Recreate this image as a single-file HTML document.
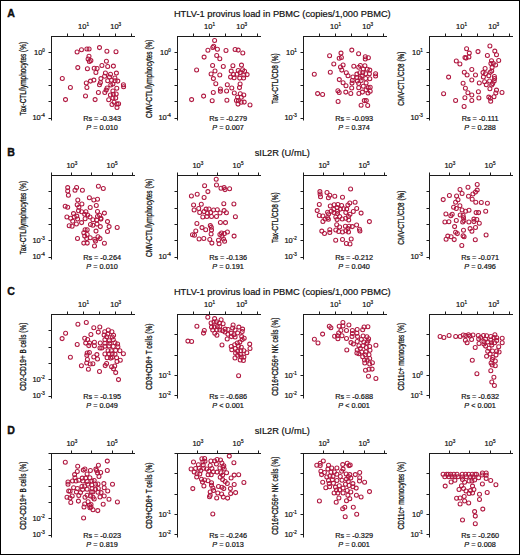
<!DOCTYPE html><html><head><meta charset="utf-8"><style>
html,body{margin:0;padding:0;background:#fff;}
#fig{position:relative;width:520px;height:555px;overflow:hidden;background:#fff;}
svg{display:block;}
text{font-family:"Liberation Sans", sans-serif;fill:#111;stroke:#111;stroke-width:0.2px;}
</style></head><body><div id="fig">
<svg width="520" height="555" viewBox="0 0 520 555">
<rect x="0.5" y="0.5" width="519" height="554" fill="#fff" stroke="#000" stroke-width="1"/>
<text x="7.3" y="16.5" font-size="10.6" font-weight="bold" fill="#000" style="stroke:#000;stroke-width:0.35px">A</text>
<text x="282.3" y="16.6" font-size="9.3" text-anchor="middle">HTLV-1 provirus load in PBMC (copies/1,000 PBMC)</text>
<path d="M51.5 36.5H135M51.5 36V120.5" stroke="#1c1c1c" stroke-width="1" fill="none"/>
<path d="M67.5 36.5V33.5M83.5 36.5V33.5M99.5 36.5V33.5M115.5 36.5V33.5M131.5 36.5V33.5" stroke="#1c1c1c" stroke-width="1" fill="none"/>
<text x="83.57" y="28.9" font-size="7.5" text-anchor="middle">10<tspan font-size="4.6" dy="-2.8">1</tspan></text>
<text x="115.71" y="28.9" font-size="7.5" text-anchor="middle">10<tspan font-size="4.6" dy="-2.8">3</tspan></text>
<path d="M51.5 52.5H48.5M51.5 69.5H48.5M51.5 85.5H48.5M51.5 101.5H48.5M51.5 118.5H48.5" stroke="#1c1c1c" stroke-width="1" fill="none"/>
<text x="44.9" y="54.8" font-size="7.5" text-anchor="end">10<tspan font-size="4.6" dy="-2.8">0</tspan></text>
<text x="44.9" y="120.2" font-size="7.5" text-anchor="end">10<tspan font-size="4.6" dy="-2.8">-4</tspan></text>
<text transform="translate(25.8 78.7) rotate(-90)" x="0" y="0" font-size="8.8" style="stroke-width:0.28px" text-anchor="middle" textLength="73.5" lengthAdjust="spacingAndGlyphs">Tax-CTL/lymphocytes (%)</text>
<text x="102.1" y="120.6" font-size="7.3" text-anchor="middle">Rs = -0.343</text>
<text x="102.1" y="129.5" font-size="7.3" text-anchor="middle"><tspan font-style="italic">P</tspan> = 0.010</text>
<g fill="none" stroke="#b01840" stroke-width="1.05">
<circle cx="77.1" cy="51.9" r="2.0"/>
<circle cx="81.5" cy="49.8" r="2.0"/>
<circle cx="86.9" cy="49" r="2.0"/>
<circle cx="89.1" cy="49" r="2.0"/>
<circle cx="89" cy="56.2" r="2.0"/>
<circle cx="88.1" cy="58.9" r="2.0"/>
<circle cx="90.9" cy="60.6" r="2.0"/>
<circle cx="89.4" cy="61.4" r="2.0"/>
<circle cx="77.8" cy="67.6" r="2.0"/>
<circle cx="87.4" cy="68.8" r="2.0"/>
<circle cx="62.3" cy="78.5" r="2.0"/>
<circle cx="99.5" cy="47.6" r="2.0"/>
<circle cx="106.9" cy="51.2" r="2.0"/>
<circle cx="116" cy="51.7" r="2.0"/>
<circle cx="106.4" cy="61.2" r="2.0"/>
<circle cx="101.9" cy="65.4" r="2.0"/>
<circle cx="107.7" cy="66.4" r="2.0"/>
<circle cx="113.4" cy="66.1" r="2.0"/>
<circle cx="94.2" cy="68.3" r="2.0"/>
<circle cx="97.1" cy="68.4" r="2.0"/>
<circle cx="95.9" cy="72.4" r="2.0"/>
<circle cx="105.4" cy="73" r="2.0"/>
<circle cx="110.5" cy="74.2" r="2.0"/>
<circle cx="116.4" cy="73.1" r="2.0"/>
<circle cx="104.6" cy="76.3" r="2.0"/>
<circle cx="109.5" cy="77.1" r="2.0"/>
<circle cx="114.9" cy="77.9" r="2.0"/>
<circle cx="100.9" cy="78.6" r="2.0"/>
<circle cx="70.4" cy="87.4" r="2.0"/>
<circle cx="65.5" cy="99.6" r="2.0"/>
<circle cx="86.3" cy="83" r="2.0"/>
<circle cx="90.5" cy="81.1" r="2.0"/>
<circle cx="93.9" cy="80.1" r="2.0"/>
<circle cx="86.9" cy="87.4" r="2.0"/>
<circle cx="85.5" cy="95.9" r="2.0"/>
<circle cx="100.4" cy="82.6" r="2.0"/>
<circle cx="99.5" cy="84.7" r="2.0"/>
<circle cx="107.7" cy="80.8" r="2.0"/>
<circle cx="111.4" cy="80.3" r="2.0"/>
<circle cx="115.1" cy="80.8" r="2.0"/>
<circle cx="117.8" cy="81.1" r="2.0"/>
<circle cx="112.9" cy="83.9" r="2.0"/>
<circle cx="110.8" cy="84.9" r="2.0"/>
<circle cx="107.1" cy="88" r="2.0"/>
<circle cx="106.2" cy="90.1" r="2.0"/>
<circle cx="104.8" cy="92.5" r="2.0"/>
<circle cx="98.4" cy="92.5" r="2.0"/>
<circle cx="116.8" cy="88.2" r="2.0"/>
<circle cx="123.4" cy="84.7" r="2.0"/>
<circle cx="123.6" cy="86.8" r="2.0"/>
<circle cx="112.9" cy="90.9" r="2.0"/>
<circle cx="110.4" cy="95" r="2.0"/>
<circle cx="113.3" cy="94.2" r="2.0"/>
<circle cx="116.2" cy="94" r="2.0"/>
<circle cx="115.7" cy="97.9" r="2.0"/>
<circle cx="112.9" cy="97.9" r="2.0"/>
<circle cx="108.7" cy="99.8" r="2.0"/>
<circle cx="95.1" cy="99.6" r="2.0"/>
<circle cx="114.1" cy="102.3" r="2.0"/>
<circle cx="112" cy="104.5" r="2.0"/>
<circle cx="117" cy="104.1" r="2.0"/>
<circle cx="118.6" cy="103.7" r="2.0"/>
<circle cx="117" cy="107.4" r="2.0"/>
</g>
<path d="M177.5 36.5H261M177.5 36V120.5" stroke="#1c1c1c" stroke-width="1" fill="none"/>
<path d="M193.5 36.5V33.5M209.5 36.5V33.5M225.5 36.5V33.5M241.5 36.5V33.5M257.5 36.5V33.5" stroke="#1c1c1c" stroke-width="1" fill="none"/>
<text x="209.57" y="28.9" font-size="7.5" text-anchor="middle">10<tspan font-size="4.6" dy="-2.8">1</tspan></text>
<text x="241.71" y="28.9" font-size="7.5" text-anchor="middle">10<tspan font-size="4.6" dy="-2.8">3</tspan></text>
<path d="M177.5 52.5H174.5M177.5 69.5H174.5M177.5 85.5H174.5M177.5 101.5H174.5M177.5 118.5H174.5" stroke="#1c1c1c" stroke-width="1" fill="none"/>
<text x="170.9" y="54.8" font-size="7.5" text-anchor="end">10<tspan font-size="4.6" dy="-2.8">0</tspan></text>
<text x="170.9" y="120.2" font-size="7.5" text-anchor="end">10<tspan font-size="4.6" dy="-2.8">-4</tspan></text>
<text transform="translate(151.8 78.7) rotate(-90)" x="0" y="0" font-size="8.8" style="stroke-width:0.28px" text-anchor="middle" textLength="78.4" lengthAdjust="spacingAndGlyphs">CMV-CTL/lymphocytes (%)</text>
<text x="228.1" y="120.6" font-size="7.3" text-anchor="middle">Rs = -0.279</text>
<text x="228.1" y="129.5" font-size="7.3" text-anchor="middle"><tspan font-style="italic">P</tspan> = 0.007</text>
<g fill="none" stroke="#b01840" stroke-width="1.05">
<circle cx="214.6" cy="40.5" r="2.0"/>
<circle cx="213.7" cy="46.3" r="2.0"/>
<circle cx="212.8" cy="47.5" r="2.0"/>
<circle cx="217.4" cy="49.2" r="2.0"/>
<circle cx="207.9" cy="50.2" r="2.0"/>
<circle cx="216.7" cy="55.4" r="2.0"/>
<circle cx="219.8" cy="58.7" r="2.0"/>
<circle cx="204.1" cy="57.1" r="2.0"/>
<circle cx="212.6" cy="65.4" r="2.0"/>
<circle cx="196.6" cy="69.9" r="2.0"/>
<circle cx="215" cy="70.9" r="2.0"/>
<circle cx="211.1" cy="74" r="2.0"/>
<circle cx="219.8" cy="74.9" r="2.0"/>
<circle cx="213.4" cy="78.6" r="2.0"/>
<circle cx="226" cy="50.4" r="2.0"/>
<circle cx="235.1" cy="49.4" r="2.0"/>
<circle cx="238.2" cy="50.1" r="2.0"/>
<circle cx="242.8" cy="53" r="2.0"/>
<circle cx="223.3" cy="66.4" r="2.0"/>
<circle cx="232.9" cy="65.8" r="2.0"/>
<circle cx="241.5" cy="65.1" r="2.0"/>
<circle cx="231.2" cy="71.1" r="2.0"/>
<circle cx="233.5" cy="74.4" r="2.0"/>
<circle cx="230.6" cy="77.1" r="2.0"/>
<circle cx="234.1" cy="77.7" r="2.0"/>
<circle cx="237" cy="74.2" r="2.0"/>
<circle cx="238.2" cy="70.5" r="2.0"/>
<circle cx="240.1" cy="72.6" r="2.0"/>
<circle cx="242.6" cy="69.7" r="2.0"/>
<circle cx="244.6" cy="71.3" r="2.0"/>
<circle cx="243.8" cy="75" r="2.0"/>
<circle cx="247.1" cy="74.6" r="2.0"/>
<circle cx="239.7" cy="78.1" r="2.0"/>
<circle cx="243.6" cy="77.9" r="2.0"/>
<circle cx="215.8" cy="83.7" r="2.0"/>
<circle cx="220.4" cy="89" r="2.0"/>
<circle cx="220.4" cy="91.3" r="2.0"/>
<circle cx="213.3" cy="92.5" r="2.0"/>
<circle cx="203.6" cy="96.1" r="2.0"/>
<circle cx="191.6" cy="99.6" r="2.0"/>
<circle cx="212.2" cy="100.8" r="2.0"/>
<circle cx="227.3" cy="84.7" r="2.0"/>
<circle cx="240.1" cy="83.9" r="2.0"/>
<circle cx="239.5" cy="87.6" r="2.0"/>
<circle cx="231.8" cy="88" r="2.0"/>
<circle cx="226.6" cy="90.9" r="2.0"/>
<circle cx="234.3" cy="93" r="2.0"/>
<circle cx="240.3" cy="93.8" r="2.0"/>
<circle cx="243.8" cy="95" r="2.0"/>
<circle cx="237.6" cy="97.3" r="2.0"/>
<circle cx="241.3" cy="97.3" r="2.0"/>
<circle cx="236.4" cy="100.4" r="2.0"/>
<circle cx="238.4" cy="100.8" r="2.0"/>
<circle cx="241.2" cy="102.3" r="2.0"/>
<circle cx="244.2" cy="102.1" r="2.0"/>
<circle cx="238" cy="104.1" r="2.0"/>
<circle cx="226.9" cy="100.2" r="2.0"/>
<circle cx="250" cy="104.9" r="2.0"/>
</g>
<path d="M303.5 36.5H387M303.5 36V120.5" stroke="#1c1c1c" stroke-width="1" fill="none"/>
<path d="M319.5 36.5V33.5M335.5 36.5V33.5M351.5 36.5V33.5M367.5 36.5V33.5M383.5 36.5V33.5" stroke="#1c1c1c" stroke-width="1" fill="none"/>
<text x="335.57" y="28.9" font-size="7.5" text-anchor="middle">10<tspan font-size="4.6" dy="-2.8">1</tspan></text>
<text x="367.71" y="28.9" font-size="7.5" text-anchor="middle">10<tspan font-size="4.6" dy="-2.8">3</tspan></text>
<path d="M303.5 52.5H300.5M303.5 69.5H300.5M303.5 85.5H300.5M303.5 101.5H300.5M303.5 118.5H300.5" stroke="#1c1c1c" stroke-width="1" fill="none"/>
<text x="296.9" y="54.8" font-size="7.5" text-anchor="end">10<tspan font-size="4.6" dy="-2.8">1</tspan></text>
<text x="296.9" y="120.2" font-size="7.5" text-anchor="end">10<tspan font-size="4.6" dy="-2.8">-3</tspan></text>
<text transform="translate(277.8 78.7) rotate(-90)" x="0" y="0" font-size="8.8" style="stroke-width:0.28px" text-anchor="middle" textLength="50.5" lengthAdjust="spacingAndGlyphs">Tax-CTL/CD8 (%)</text>
<text x="354.1" y="120.6" font-size="7.3" text-anchor="middle">Rs = -0.093</text>
<text x="354.1" y="129.5" font-size="7.3" text-anchor="middle"><tspan font-style="italic">P</tspan> = 0.374</text>
<g fill="none" stroke="#b01840" stroke-width="1.05">
<circle cx="341" cy="53.1" r="2.0"/>
<circle cx="329.6" cy="55.8" r="2.0"/>
<circle cx="339.2" cy="58.3" r="2.0"/>
<circle cx="341.4" cy="57.5" r="2.0"/>
<circle cx="333.8" cy="64" r="2.0"/>
<circle cx="343.1" cy="64.9" r="2.0"/>
<circle cx="340.5" cy="66.9" r="2.0"/>
<circle cx="341.8" cy="70.1" r="2.0"/>
<circle cx="330.3" cy="72.2" r="2.0"/>
<circle cx="314.3" cy="74.2" r="2.0"/>
<circle cx="351.8" cy="50.1" r="2.0"/>
<circle cx="358.6" cy="53.8" r="2.0"/>
<circle cx="365.3" cy="56.7" r="2.0"/>
<circle cx="368.4" cy="57.7" r="2.0"/>
<circle cx="365.3" cy="58.9" r="2.0"/>
<circle cx="353.8" cy="66.3" r="2.0"/>
<circle cx="358.7" cy="67.2" r="2.0"/>
<circle cx="360.4" cy="65.5" r="2.0"/>
<circle cx="364.9" cy="65.8" r="2.0"/>
<circle cx="363.3" cy="68.9" r="2.0"/>
<circle cx="367.3" cy="69.3" r="2.0"/>
<circle cx="369.8" cy="70.1" r="2.0"/>
<circle cx="346.3" cy="72.8" r="2.0"/>
<circle cx="348" cy="75.8" r="2.0"/>
<circle cx="352.9" cy="76.9" r="2.0"/>
<circle cx="356.9" cy="74.1" r="2.0"/>
<circle cx="359.8" cy="72.7" r="2.0"/>
<circle cx="362.7" cy="72.7" r="2.0"/>
<circle cx="362.1" cy="75.8" r="2.0"/>
<circle cx="356.9" cy="77.6" r="2.0"/>
<circle cx="365.7" cy="73.8" r="2.0"/>
<circle cx="369.4" cy="73.8" r="2.0"/>
<circle cx="365.7" cy="78.4" r="2.0"/>
<circle cx="369.8" cy="78.8" r="2.0"/>
<circle cx="375.6" cy="73.8" r="2.0"/>
<circle cx="375.6" cy="75.9" r="2.0"/>
<circle cx="360.3" cy="77.9" r="2.0"/>
<circle cx="339.3" cy="79.6" r="2.0"/>
<circle cx="343.1" cy="82.8" r="2.0"/>
<circle cx="337.9" cy="90.7" r="2.0"/>
<circle cx="339.2" cy="92.5" r="2.0"/>
<circle cx="317.6" cy="93.6" r="2.0"/>
<circle cx="322.6" cy="94.4" r="2.0"/>
<circle cx="338.1" cy="101.5" r="2.0"/>
<circle cx="346" cy="85.7" r="2.0"/>
<circle cx="352.3" cy="80.5" r="2.0"/>
<circle cx="352" cy="83.1" r="2.0"/>
<circle cx="351.7" cy="88" r="2.0"/>
<circle cx="357.4" cy="81" r="2.0"/>
<circle cx="361.1" cy="80.5" r="2.0"/>
<circle cx="358.7" cy="83.4" r="2.0"/>
<circle cx="366.1" cy="83" r="2.0"/>
<circle cx="358.7" cy="87.7" r="2.0"/>
<circle cx="363.3" cy="86.2" r="2.0"/>
<circle cx="368.2" cy="87.6" r="2.0"/>
<circle cx="370.2" cy="87.2" r="2.0"/>
<circle cx="366.1" cy="89.9" r="2.0"/>
<circle cx="350.8" cy="93.4" r="2.0"/>
<circle cx="358.9" cy="93.4" r="2.0"/>
<circle cx="362.4" cy="92.1" r="2.0"/>
<circle cx="368" cy="93" r="2.0"/>
<circle cx="370.2" cy="91.3" r="2.0"/>
<circle cx="364.3" cy="100.6" r="2.0"/>
<circle cx="366.3" cy="100.6" r="2.0"/>
<circle cx="361.1" cy="105.2" r="2.0"/>
<circle cx="367.7" cy="105.4" r="2.0"/>
<circle cx="345.8" cy="92.1" r="2.0"/>
</g>
<path d="M429.5 36.5H513M429.5 36V120.5" stroke="#1c1c1c" stroke-width="1" fill="none"/>
<path d="M445.5 36.5V33.5M461.5 36.5V33.5M477.5 36.5V33.5M493.5 36.5V33.5M509.5 36.5V33.5" stroke="#1c1c1c" stroke-width="1" fill="none"/>
<text x="461.57" y="28.9" font-size="7.5" text-anchor="middle">10<tspan font-size="4.6" dy="-2.8">1</tspan></text>
<text x="493.71" y="28.9" font-size="7.5" text-anchor="middle">10<tspan font-size="4.6" dy="-2.8">3</tspan></text>
<path d="M429.5 52.5H426.5M429.5 69.5H426.5M429.5 85.5H426.5M429.5 101.5H426.5M429.5 118.5H426.5" stroke="#1c1c1c" stroke-width="1" fill="none"/>
<text x="422.9" y="54.8" font-size="7.5" text-anchor="end">10<tspan font-size="4.6" dy="-2.8">1</tspan></text>
<text x="422.9" y="120.2" font-size="7.5" text-anchor="end">10<tspan font-size="4.6" dy="-2.8">-3</tspan></text>
<text transform="translate(403.8 78.7) rotate(-90)" x="0" y="0" font-size="8.8" style="stroke-width:0.28px" text-anchor="middle" textLength="54" lengthAdjust="spacingAndGlyphs">CMV-CTL/CD8 (%)</text>
<text x="480.1" y="120.6" font-size="7.3" text-anchor="middle">Rs = -0.111</text>
<text x="480.1" y="129.5" font-size="7.3" text-anchor="middle"><tspan font-style="italic">P</tspan> = 0.288</text>
<g fill="none" stroke="#b01840" stroke-width="1.05">
<circle cx="466.6" cy="48.8" r="2.0"/>
<circle cx="469.3" cy="53.1" r="2.0"/>
<circle cx="468.9" cy="56.9" r="2.0"/>
<circle cx="465" cy="57.5" r="2.0"/>
<circle cx="466" cy="58.1" r="2.0"/>
<circle cx="456.3" cy="61" r="2.0"/>
<circle cx="459.9" cy="63.9" r="2.0"/>
<circle cx="471.8" cy="69.5" r="2.0"/>
<circle cx="464.3" cy="72.2" r="2.0"/>
<circle cx="467.1" cy="75" r="2.0"/>
<circle cx="448.6" cy="77.1" r="2.0"/>
<circle cx="471.8" cy="80" r="2.0"/>
<circle cx="489.9" cy="45.9" r="2.0"/>
<circle cx="478" cy="51.6" r="2.0"/>
<circle cx="494.8" cy="51.1" r="2.0"/>
<circle cx="496.5" cy="54.8" r="2.0"/>
<circle cx="487.4" cy="55.4" r="2.0"/>
<circle cx="491.5" cy="60.7" r="2.0"/>
<circle cx="498.7" cy="60.4" r="2.0"/>
<circle cx="493.3" cy="63.5" r="2.0"/>
<circle cx="495.6" cy="65" r="2.0"/>
<circle cx="490.9" cy="63.5" r="2.0"/>
<circle cx="492.1" cy="67.6" r="2.0"/>
<circle cx="485.1" cy="68.4" r="2.0"/>
<circle cx="491.7" cy="70.9" r="2.0"/>
<circle cx="490.2" cy="72.2" r="2.0"/>
<circle cx="483" cy="72.6" r="2.0"/>
<circle cx="485.5" cy="73.8" r="2.0"/>
<circle cx="475.5" cy="74.9" r="2.0"/>
<circle cx="488.8" cy="75.8" r="2.0"/>
<circle cx="483.4" cy="76.9" r="2.0"/>
<circle cx="494.4" cy="76.5" r="2.0"/>
<circle cx="494.6" cy="78.4" r="2.0"/>
<circle cx="463.1" cy="83.3" r="2.0"/>
<circle cx="465.4" cy="88.2" r="2.0"/>
<circle cx="467.9" cy="92.8" r="2.0"/>
<circle cx="471.8" cy="94.9" r="2.0"/>
<circle cx="443.6" cy="93.8" r="2.0"/>
<circle cx="464.9" cy="97.7" r="2.0"/>
<circle cx="471.8" cy="100.4" r="2.0"/>
<circle cx="455.6" cy="100.4" r="2.0"/>
<circle cx="464.1" cy="106.4" r="2.0"/>
<circle cx="479.3" cy="83" r="2.0"/>
<circle cx="484.6" cy="81.8" r="2.0"/>
<circle cx="486.3" cy="84.7" r="2.0"/>
<circle cx="489.6" cy="81" r="2.0"/>
<circle cx="494.2" cy="81" r="2.0"/>
<circle cx="492.7" cy="83.4" r="2.0"/>
<circle cx="491.7" cy="84.9" r="2.0"/>
<circle cx="489.9" cy="88.8" r="2.0"/>
<circle cx="496.5" cy="90.1" r="2.0"/>
<circle cx="495.8" cy="93" r="2.0"/>
<circle cx="502" cy="92.5" r="2.0"/>
<circle cx="478.4" cy="91.7" r="2.0"/>
<circle cx="478.9" cy="97.9" r="2.0"/>
<circle cx="488.8" cy="97.1" r="2.0"/>
<circle cx="494" cy="96.7" r="2.0"/>
<circle cx="490.4" cy="98.2" r="2.0"/>
<circle cx="490.7" cy="101.2" r="2.0"/>
</g>
<text x="7.3" y="155.5" font-size="10.6" font-weight="bold" fill="#000" style="stroke:#000;stroke-width:0.35px">B</text>
<text x="282.3" y="155.6" font-size="9.3" text-anchor="middle">sIL2R (U/mL)</text>
<path d="M51.5 175.5H135M51.5 175V259.5" stroke="#1c1c1c" stroke-width="1" fill="none"/>
<path d="M51.5 175.5V172.5M71.5 175.5V172.5M91.5 175.5V172.5M112.5 175.5V172.5M132.5 175.5V172.5" stroke="#1c1c1c" stroke-width="1" fill="none"/>
<text x="71.87" y="167.9" font-size="7.5" text-anchor="middle">10<tspan font-size="4.6" dy="-2.8">3</tspan></text>
<text x="112.01" y="167.9" font-size="7.5" text-anchor="middle">10<tspan font-size="4.6" dy="-2.8">5</tspan></text>
<path d="M51.5 191.5H48.5M51.5 208.5H48.5M51.5 224.5H48.5M51.5 240.5H48.5M51.5 257.5H48.5" stroke="#1c1c1c" stroke-width="1" fill="none"/>
<text x="44.9" y="242.85" font-size="7.5" text-anchor="end">10<tspan font-size="4.6" dy="-2.8">-3</tspan></text>
<text x="44.9" y="259.2" font-size="7.5" text-anchor="end">10<tspan font-size="4.6" dy="-2.8">-4</tspan></text>
<text transform="translate(25.8 217.7) rotate(-90)" x="0" y="0" font-size="8.8" style="stroke-width:0.28px" text-anchor="middle" textLength="73.5" lengthAdjust="spacingAndGlyphs">Tax-CTL/lymphocytes (%)</text>
<text x="102.1" y="259.6" font-size="7.3" text-anchor="middle">Rs = -0.264</text>
<text x="102.1" y="268.5" font-size="7.3" text-anchor="middle"><tspan font-style="italic">P</tspan> = 0.010</text>
<g fill="none" stroke="#b01840" stroke-width="1.05">
<circle cx="67.7" cy="187.6" r="2.0"/>
<circle cx="67.7" cy="190.9" r="2.0"/>
<circle cx="68.4" cy="195.2" r="2.0"/>
<circle cx="76.6" cy="187.4" r="2.0"/>
<circle cx="75" cy="190.2" r="2.0"/>
<circle cx="82.4" cy="190.2" r="2.0"/>
<circle cx="89.4" cy="197.7" r="2.0"/>
<circle cx="93.8" cy="200" r="2.0"/>
<circle cx="77.8" cy="200" r="2.0"/>
<circle cx="77.2" cy="204.8" r="2.0"/>
<circle cx="81.9" cy="204" r="2.0"/>
<circle cx="78.9" cy="207.3" r="2.0"/>
<circle cx="65.2" cy="206.2" r="2.0"/>
<circle cx="67.7" cy="207.3" r="2.0"/>
<circle cx="90.2" cy="207.4" r="2.0"/>
<circle cx="78.5" cy="210.7" r="2.0"/>
<circle cx="81.6" cy="211.7" r="2.0"/>
<circle cx="85.9" cy="211.7" r="2.0"/>
<circle cx="73.5" cy="213.6" r="2.0"/>
<circle cx="84.7" cy="214.2" r="2.0"/>
<circle cx="87.6" cy="214.9" r="2.0"/>
<circle cx="66.9" cy="216.9" r="2.0"/>
<circle cx="74.3" cy="216.9" r="2.0"/>
<circle cx="76.8" cy="216.1" r="2.0"/>
<circle cx="90" cy="216.9" r="2.0"/>
<circle cx="98.4" cy="186.3" r="2.0"/>
<circle cx="103.3" cy="188.4" r="2.0"/>
<circle cx="97.5" cy="199.3" r="2.0"/>
<circle cx="96.3" cy="205.4" r="2.0"/>
<circle cx="97.5" cy="211.4" r="2.0"/>
<circle cx="104.4" cy="213.1" r="2.0"/>
<circle cx="97.5" cy="216.4" r="2.0"/>
<circle cx="99.6" cy="215.3" r="2.0"/>
<circle cx="100.9" cy="218.2" r="2.0"/>
<circle cx="70.6" cy="218.3" r="2.0"/>
<circle cx="77.6" cy="219" r="2.0"/>
<circle cx="72.7" cy="221.2" r="2.0"/>
<circle cx="76.4" cy="223.9" r="2.0"/>
<circle cx="69.2" cy="225.8" r="2.0"/>
<circle cx="72.1" cy="226.2" r="2.0"/>
<circle cx="81.6" cy="222.6" r="2.0"/>
<circle cx="85.1" cy="218.7" r="2.0"/>
<circle cx="92.9" cy="219.8" r="2.0"/>
<circle cx="90.5" cy="224.5" r="2.0"/>
<circle cx="92.9" cy="225.3" r="2.0"/>
<circle cx="85.1" cy="229.7" r="2.0"/>
<circle cx="87.2" cy="229.7" r="2.0"/>
<circle cx="83.8" cy="232.8" r="2.0"/>
<circle cx="87.2" cy="234.4" r="2.0"/>
<circle cx="84.7" cy="236.1" r="2.0"/>
<circle cx="86.7" cy="238.6" r="2.0"/>
<circle cx="90.2" cy="237.7" r="2.0"/>
<circle cx="77.5" cy="238.4" r="2.0"/>
<circle cx="83.8" cy="243.1" r="2.0"/>
<circle cx="87.2" cy="243.1" r="2.0"/>
<circle cx="100.9" cy="219.1" r="2.0"/>
<circle cx="96.7" cy="220" r="2.0"/>
<circle cx="97" cy="224.1" r="2.0"/>
<circle cx="100.3" cy="226.6" r="2.0"/>
<circle cx="107.5" cy="221.6" r="2.0"/>
<circle cx="109.1" cy="226.6" r="2.0"/>
<circle cx="117.2" cy="227.4" r="2.0"/>
<circle cx="96" cy="231.1" r="2.0"/>
<circle cx="107.5" cy="231.5" r="2.0"/>
<circle cx="98" cy="236.7" r="2.0"/>
<circle cx="100" cy="238.6" r="2.0"/>
<circle cx="94.8" cy="239.3" r="2.0"/>
<circle cx="95.5" cy="241.1" r="2.0"/>
<circle cx="104.4" cy="243.3" r="2.0"/>
<circle cx="94.5" cy="246" r="2.0"/>
</g>
<path d="M177.5 175.5H261M177.5 175V259.5" stroke="#1c1c1c" stroke-width="1" fill="none"/>
<path d="M177.5 175.5V172.5M197.5 175.5V172.5M217.5 175.5V172.5M238.5 175.5V172.5M258.5 175.5V172.5" stroke="#1c1c1c" stroke-width="1" fill="none"/>
<text x="197.87" y="167.9" font-size="7.5" text-anchor="middle">10<tspan font-size="4.6" dy="-2.8">3</tspan></text>
<text x="238.01" y="167.9" font-size="7.5" text-anchor="middle">10<tspan font-size="4.6" dy="-2.8">5</tspan></text>
<path d="M177.5 191.5H174.5M177.5 208.5H174.5M177.5 224.5H174.5M177.5 240.5H174.5M177.5 257.5H174.5" stroke="#1c1c1c" stroke-width="1" fill="none"/>
<text x="170.9" y="259.2" font-size="7.5" text-anchor="end">10<tspan font-size="4.6" dy="-2.8">-4</tspan></text>
<text transform="translate(151.8 217.7) rotate(-90)" x="0" y="0" font-size="8.8" style="stroke-width:0.28px" text-anchor="middle" textLength="78.4" lengthAdjust="spacingAndGlyphs">CMV-CTL/lymphocytes (%)</text>
<text x="228.1" y="259.6" font-size="7.3" text-anchor="middle">Rs = -0.136</text>
<text x="228.1" y="268.5" font-size="7.3" text-anchor="middle"><tspan font-style="italic">P</tspan> = 0.191</text>
<g fill="none" stroke="#b01840" stroke-width="1.05">
<circle cx="216.2" cy="179.3" r="2.0"/>
<circle cx="216.5" cy="184.9" r="2.0"/>
<circle cx="204.6" cy="185.8" r="2.0"/>
<circle cx="207.9" cy="191.6" r="2.0"/>
<circle cx="197.2" cy="194.2" r="2.0"/>
<circle cx="191.4" cy="195.9" r="2.0"/>
<circle cx="204.1" cy="197.5" r="2.0"/>
<circle cx="193.6" cy="204.9" r="2.0"/>
<circle cx="201.3" cy="204.3" r="2.0"/>
<circle cx="194.1" cy="209.9" r="2.0"/>
<circle cx="198.7" cy="208.4" r="2.0"/>
<circle cx="199.7" cy="212.4" r="2.0"/>
<circle cx="204.1" cy="211.6" r="2.0"/>
<circle cx="206.1" cy="209.1" r="2.0"/>
<circle cx="209" cy="208.9" r="2.0"/>
<circle cx="210.7" cy="212.4" r="2.0"/>
<circle cx="213.6" cy="209.9" r="2.0"/>
<circle cx="217.3" cy="209.7" r="2.0"/>
<circle cx="207.4" cy="213.2" r="2.0"/>
<circle cx="202.8" cy="216.9" r="2.0"/>
<circle cx="206.9" cy="216.5" r="2.0"/>
<circle cx="211.5" cy="216.5" r="2.0"/>
<circle cx="216.5" cy="216.5" r="2.0"/>
<circle cx="220" cy="212.9" r="2.0"/>
<circle cx="221" cy="188.2" r="2.0"/>
<circle cx="224.1" cy="187.6" r="2.0"/>
<circle cx="225" cy="189.6" r="2.0"/>
<circle cx="229.6" cy="188.8" r="2.0"/>
<circle cx="223.8" cy="203.7" r="2.0"/>
<circle cx="233.9" cy="204" r="2.0"/>
<circle cx="224.1" cy="210.6" r="2.0"/>
<circle cx="226.4" cy="212.8" r="2.0"/>
<circle cx="235.4" cy="216.7" r="2.0"/>
<circle cx="196.9" cy="223.4" r="2.0"/>
<circle cx="202" cy="227.6" r="2.0"/>
<circle cx="205.7" cy="229.7" r="2.0"/>
<circle cx="210.3" cy="225.6" r="2.0"/>
<circle cx="211.3" cy="227.2" r="2.0"/>
<circle cx="211.5" cy="229.9" r="2.0"/>
<circle cx="211.1" cy="234" r="2.0"/>
<circle cx="195.8" cy="230.9" r="2.0"/>
<circle cx="192.5" cy="234.7" r="2.0"/>
<circle cx="194.5" cy="235.3" r="2.0"/>
<circle cx="199.1" cy="239" r="2.0"/>
<circle cx="203.8" cy="238.4" r="2.0"/>
<circle cx="209.8" cy="239.4" r="2.0"/>
<circle cx="211.9" cy="243.1" r="2.0"/>
<circle cx="218.5" cy="240.2" r="2.0"/>
<circle cx="219.1" cy="243.8" r="2.0"/>
<circle cx="219.9" cy="234.4" r="2.0"/>
<circle cx="220.4" cy="222.4" r="2.0"/>
<circle cx="225.5" cy="222.6" r="2.0"/>
<circle cx="221.5" cy="233" r="2.0"/>
<circle cx="224.4" cy="233.6" r="2.0"/>
<circle cx="227.4" cy="232" r="2.0"/>
<circle cx="234.1" cy="236.1" r="2.0"/>
<circle cx="221.9" cy="236.3" r="2.0"/>
<circle cx="223.5" cy="239" r="2.0"/>
<circle cx="224.6" cy="241.3" r="2.0"/>
</g>
<path d="M303.5 175.5H387M303.5 175V259.5" stroke="#1c1c1c" stroke-width="1" fill="none"/>
<path d="M303.5 175.5V172.5M323.5 175.5V172.5M343.5 175.5V172.5M364.5 175.5V172.5M384.5 175.5V172.5" stroke="#1c1c1c" stroke-width="1" fill="none"/>
<text x="323.87" y="167.9" font-size="7.5" text-anchor="middle">10<tspan font-size="4.6" dy="-2.8">3</tspan></text>
<text x="364.01" y="167.9" font-size="7.5" text-anchor="middle">10<tspan font-size="4.6" dy="-2.8">5</tspan></text>
<path d="M303.5 191.5H300.5M303.5 208.5H300.5M303.5 224.5H300.5M303.5 240.5H300.5M303.5 257.5H300.5" stroke="#1c1c1c" stroke-width="1" fill="none"/>
<text x="296.9" y="242.85" font-size="7.5" text-anchor="end">10<tspan font-size="4.6" dy="-2.8">-2</tspan></text>
<text x="296.9" y="259.2" font-size="7.5" text-anchor="end">10<tspan font-size="4.6" dy="-2.8">-3</tspan></text>
<text transform="translate(277.8 217.7) rotate(-90)" x="0" y="0" font-size="8.8" style="stroke-width:0.28px" text-anchor="middle" textLength="50.5" lengthAdjust="spacingAndGlyphs">Tax-CTL/CD8 (%)</text>
<text x="354.1" y="259.6" font-size="7.3" text-anchor="middle">Rs = -0.212</text>
<text x="354.1" y="268.5" font-size="7.3" text-anchor="middle"><tspan font-style="italic">P</tspan> = 0.040</text>
<g fill="none" stroke="#b01840" stroke-width="1.05">
<circle cx="319.9" cy="191.6" r="2.0"/>
<circle cx="320.1" cy="194" r="2.0"/>
<circle cx="320.5" cy="196.7" r="2.0"/>
<circle cx="327" cy="192.5" r="2.0"/>
<circle cx="329.8" cy="195.2" r="2.0"/>
<circle cx="328.4" cy="197.7" r="2.0"/>
<circle cx="334.8" cy="196.3" r="2.0"/>
<circle cx="342.5" cy="197.3" r="2.0"/>
<circle cx="319.3" cy="204.5" r="2.0"/>
<circle cx="317.2" cy="210.6" r="2.0"/>
<circle cx="319.3" cy="215.5" r="2.0"/>
<circle cx="322.9" cy="215.9" r="2.0"/>
<circle cx="330.3" cy="205.9" r="2.0"/>
<circle cx="334.2" cy="204.8" r="2.0"/>
<circle cx="337.9" cy="204.5" r="2.0"/>
<circle cx="341.6" cy="205.4" r="2.0"/>
<circle cx="337.1" cy="207.4" r="2.0"/>
<circle cx="331.3" cy="211.2" r="2.0"/>
<circle cx="333.8" cy="209.5" r="2.0"/>
<circle cx="327.6" cy="212.2" r="2.0"/>
<circle cx="328.6" cy="213.9" r="2.0"/>
<circle cx="333.9" cy="212.4" r="2.0"/>
<circle cx="337.5" cy="211.2" r="2.0"/>
<circle cx="337.5" cy="213.6" r="2.0"/>
<circle cx="340.4" cy="209.1" r="2.0"/>
<circle cx="343.7" cy="208.7" r="2.0"/>
<circle cx="339.6" cy="216.5" r="2.0"/>
<circle cx="335.8" cy="216.9" r="2.0"/>
<circle cx="327.6" cy="217.8" r="2.0"/>
<circle cx="350.6" cy="189" r="2.0"/>
<circle cx="349.8" cy="202.9" r="2.0"/>
<circle cx="347.9" cy="205" r="2.0"/>
<circle cx="355.1" cy="202.3" r="2.0"/>
<circle cx="356.7" cy="208.4" r="2.0"/>
<circle cx="353.3" cy="211.4" r="2.0"/>
<circle cx="350" cy="214.2" r="2.0"/>
<circle cx="346.7" cy="209.1" r="2.0"/>
<circle cx="345.8" cy="212.5" r="2.0"/>
<circle cx="361.1" cy="213.1" r="2.0"/>
<circle cx="325.1" cy="219" r="2.0"/>
<circle cx="328.4" cy="219.3" r="2.0"/>
<circle cx="322.9" cy="221.5" r="2.0"/>
<circle cx="337.1" cy="219.5" r="2.0"/>
<circle cx="342.2" cy="219" r="2.0"/>
<circle cx="345.8" cy="218.3" r="2.0"/>
<circle cx="336.7" cy="224.8" r="2.0"/>
<circle cx="339.6" cy="227" r="2.0"/>
<circle cx="345.4" cy="226.2" r="2.0"/>
<circle cx="335.8" cy="229.9" r="2.0"/>
<circle cx="338.7" cy="231.5" r="2.0"/>
<circle cx="342.5" cy="232" r="2.0"/>
<circle cx="345.8" cy="230.7" r="2.0"/>
<circle cx="321.8" cy="231.1" r="2.0"/>
<circle cx="324.5" cy="233.4" r="2.0"/>
<circle cx="329.8" cy="229.7" r="2.0"/>
<circle cx="329.8" cy="232.4" r="2.0"/>
<circle cx="335.7" cy="240.2" r="2.0"/>
<circle cx="342.5" cy="239.4" r="2.0"/>
<circle cx="346.4" cy="243.5" r="2.0"/>
<circle cx="348.5" cy="216.5" r="2.0"/>
<circle cx="348.7" cy="220" r="2.0"/>
<circle cx="369.4" cy="221.6" r="2.0"/>
<circle cx="349.1" cy="226.2" r="2.0"/>
<circle cx="352.3" cy="226.6" r="2.0"/>
<circle cx="356.6" cy="224.9" r="2.0"/>
<circle cx="359.5" cy="229.2" r="2.0"/>
<circle cx="359.9" cy="230.9" r="2.0"/>
<circle cx="347.9" cy="228.6" r="2.0"/>
<circle cx="348.5" cy="232" r="2.0"/>
<circle cx="351.2" cy="239" r="2.0"/>
<circle cx="350" cy="243.9" r="2.0"/>
</g>
<path d="M429.5 175.5H513M429.5 175V259.5" stroke="#1c1c1c" stroke-width="1" fill="none"/>
<path d="M429.5 175.5V172.5M449.5 175.5V172.5M469.5 175.5V172.5M490.5 175.5V172.5M510.5 175.5V172.5" stroke="#1c1c1c" stroke-width="1" fill="none"/>
<text x="449.87" y="167.9" font-size="7.5" text-anchor="middle">10<tspan font-size="4.6" dy="-2.8">3</tspan></text>
<text x="490.01" y="167.9" font-size="7.5" text-anchor="middle">10<tspan font-size="4.6" dy="-2.8">5</tspan></text>
<path d="M429.5 191.5H426.5M429.5 208.5H426.5M429.5 224.5H426.5M429.5 240.5H426.5M429.5 257.5H426.5" stroke="#1c1c1c" stroke-width="1" fill="none"/>
<text x="422.9" y="259.2" font-size="7.5" text-anchor="end">10<tspan font-size="4.6" dy="-2.8">-3</tspan></text>
<text transform="translate(403.8 217.7) rotate(-90)" x="0" y="0" font-size="8.8" style="stroke-width:0.28px" text-anchor="middle" textLength="54" lengthAdjust="spacingAndGlyphs">CMV-CTL/CD8 (%)</text>
<text x="480.1" y="259.6" font-size="7.3" text-anchor="middle">Rs = -0.071</text>
<text x="480.1" y="268.5" font-size="7.3" text-anchor="middle"><tspan font-style="italic">P</tspan> = 0.496</text>
<g fill="none" stroke="#b01840" stroke-width="1.05">
<circle cx="468" cy="187.3" r="2.0"/>
<circle cx="460" cy="189.4" r="2.0"/>
<circle cx="462.1" cy="193.5" r="2.0"/>
<circle cx="449.4" cy="195.4" r="2.0"/>
<circle cx="443.2" cy="199.6" r="2.0"/>
<circle cx="456.6" cy="196" r="2.0"/>
<circle cx="458" cy="199.8" r="2.0"/>
<circle cx="455.6" cy="202.3" r="2.0"/>
<circle cx="468.5" cy="196.3" r="2.0"/>
<circle cx="472.9" cy="194" r="2.0"/>
<circle cx="472.2" cy="199.2" r="2.0"/>
<circle cx="453.6" cy="207.3" r="2.0"/>
<circle cx="456.3" cy="208.4" r="2.0"/>
<circle cx="459.9" cy="205.8" r="2.0"/>
<circle cx="462.1" cy="209.9" r="2.0"/>
<circle cx="465.6" cy="211.2" r="2.0"/>
<circle cx="469" cy="210.3" r="2.0"/>
<circle cx="445.9" cy="213.9" r="2.0"/>
<circle cx="450.8" cy="215.7" r="2.0"/>
<circle cx="452.2" cy="214.2" r="2.0"/>
<circle cx="460.2" cy="214.9" r="2.0"/>
<circle cx="463.1" cy="215.5" r="2.0"/>
<circle cx="463.5" cy="217.8" r="2.0"/>
<circle cx="477.2" cy="184.5" r="2.0"/>
<circle cx="477.2" cy="190.1" r="2.0"/>
<circle cx="475.5" cy="192.1" r="2.0"/>
<circle cx="475.8" cy="202.3" r="2.0"/>
<circle cx="481.3" cy="202.5" r="2.0"/>
<circle cx="487.4" cy="203.3" r="2.0"/>
<circle cx="476.1" cy="212.6" r="2.0"/>
<circle cx="478.6" cy="212.6" r="2.0"/>
<circle cx="485.7" cy="211.2" r="2.0"/>
<circle cx="444.9" cy="222" r="2.0"/>
<circle cx="448.9" cy="221.8" r="2.0"/>
<circle cx="456.3" cy="220.4" r="2.0"/>
<circle cx="462.7" cy="222" r="2.0"/>
<circle cx="463.9" cy="220.4" r="2.0"/>
<circle cx="468.9" cy="222" r="2.0"/>
<circle cx="454.6" cy="226.6" r="2.0"/>
<circle cx="463.5" cy="230.3" r="2.0"/>
<circle cx="470.1" cy="228.6" r="2.0"/>
<circle cx="471.9" cy="231.3" r="2.0"/>
<circle cx="455.6" cy="232.2" r="2.0"/>
<circle cx="457.3" cy="233.6" r="2.0"/>
<circle cx="463.1" cy="235.7" r="2.0"/>
<circle cx="464.1" cy="236.7" r="2.0"/>
<circle cx="447.8" cy="236.1" r="2.0"/>
<circle cx="451.1" cy="236.7" r="2.0"/>
<circle cx="446.1" cy="239.2" r="2.0"/>
<circle cx="454.2" cy="239.6" r="2.0"/>
<circle cx="461.8" cy="245.4" r="2.0"/>
<circle cx="473.9" cy="219.1" r="2.0"/>
<circle cx="476.8" cy="219.5" r="2.0"/>
<circle cx="473.9" cy="221.6" r="2.0"/>
<circle cx="479.3" cy="223.3" r="2.0"/>
<circle cx="475.5" cy="227.4" r="2.0"/>
<circle cx="486.1" cy="235" r="2.0"/>
<circle cx="475.3" cy="239.8" r="2.0"/>
</g>
<text x="7.3" y="294.5" font-size="10.6" font-weight="bold" fill="#000" style="stroke:#000;stroke-width:0.35px">C</text>
<text x="282.3" y="294.6" font-size="9.3" text-anchor="middle">HTLV-1 provirus load in PBMC (copies/1,000 PBMC)</text>
<path d="M51.5 314.5H135M51.5 314V398.5" stroke="#1c1c1c" stroke-width="1" fill="none"/>
<path d="M67.5 314.5V311.5M83.5 314.5V311.5M99.5 314.5V311.5M115.5 314.5V311.5M131.5 314.5V311.5" stroke="#1c1c1c" stroke-width="1" fill="none"/>
<text x="83.57" y="306.9" font-size="7.5" text-anchor="middle">10<tspan font-size="4.6" dy="-2.8">1</tspan></text>
<text x="115.71" y="306.9" font-size="7.5" text-anchor="middle">10<tspan font-size="4.6" dy="-2.8">3</tspan></text>
<path d="M51.5 330.5H48.5M51.5 347.5H48.5M51.5 363.5H48.5M51.5 379.5H48.5M51.5 396.5H48.5" stroke="#1c1c1c" stroke-width="1" fill="none"/>
<text x="44.9" y="381.85" font-size="7.5" text-anchor="end">10<tspan font-size="4.6" dy="-2.8">-2</tspan></text>
<text x="44.9" y="398.2" font-size="7.5" text-anchor="end">10<tspan font-size="4.6" dy="-2.8">-3</tspan></text>
<text transform="translate(25.8 356.7) rotate(-90)" x="0" y="0" font-size="8.8" style="stroke-width:0.28px" text-anchor="middle" textLength="68" lengthAdjust="spacingAndGlyphs">CD2-CD19+ B cells (%)</text>
<text x="102.1" y="398.6" font-size="7.3" text-anchor="middle">Rs = -0.195</text>
<text x="102.1" y="407.5" font-size="7.3" text-anchor="middle"><tspan font-style="italic">P</tspan> = 0.049</text>
<g fill="none" stroke="#b01840" stroke-width="1.05">
<circle cx="77.9" cy="324.3" r="2.0"/>
<circle cx="86.3" cy="322.4" r="2.0"/>
<circle cx="93.8" cy="327.8" r="2.0"/>
<circle cx="65.6" cy="333.2" r="2.0"/>
<circle cx="62.1" cy="338.6" r="2.0"/>
<circle cx="90.9" cy="334.4" r="2.0"/>
<circle cx="84.7" cy="338.2" r="2.0"/>
<circle cx="87.6" cy="339.4" r="2.0"/>
<circle cx="85.7" cy="343.1" r="2.0"/>
<circle cx="89.6" cy="343" r="2.0"/>
<circle cx="88.8" cy="345.6" r="2.0"/>
<circle cx="94.4" cy="342.3" r="2.0"/>
<circle cx="94.4" cy="345.8" r="2.0"/>
<circle cx="77.2" cy="344.4" r="2.0"/>
<circle cx="87.2" cy="352.9" r="2.0"/>
<circle cx="89.4" cy="352.4" r="2.0"/>
<circle cx="86.8" cy="355.3" r="2.0"/>
<circle cx="70.4" cy="357.2" r="2.0"/>
<circle cx="93.8" cy="357" r="2.0"/>
<circle cx="87.4" cy="359.4" r="2.0"/>
<circle cx="86.7" cy="362.9" r="2.0"/>
<circle cx="90.2" cy="363.9" r="2.0"/>
<circle cx="92.9" cy="363.8" r="2.0"/>
<circle cx="81.4" cy="365.8" r="2.0"/>
<circle cx="88.4" cy="369.3" r="2.0"/>
<circle cx="97.5" cy="359" r="2.0"/>
<circle cx="107.1" cy="357.7" r="2.0"/>
<circle cx="110.8" cy="358.1" r="2.0"/>
<circle cx="112.4" cy="357.3" r="2.0"/>
<circle cx="116.6" cy="357.7" r="2.0"/>
<circle cx="117" cy="361.4" r="2.0"/>
<circle cx="120.3" cy="360.2" r="2.0"/>
<circle cx="106.6" cy="363.5" r="2.0"/>
<circle cx="105.2" cy="365.6" r="2.0"/>
<circle cx="111.6" cy="366.8" r="2.0"/>
<circle cx="114.7" cy="366" r="2.0"/>
<circle cx="113.5" cy="368.7" r="2.0"/>
<circle cx="115.7" cy="372.6" r="2.0"/>
<circle cx="99.5" cy="371.4" r="2.0"/>
<circle cx="118.5" cy="379.6" r="2.0"/>
<circle cx="99.8" cy="326.9" r="2.0"/>
<circle cx="98.3" cy="332.1" r="2.0"/>
<circle cx="104.7" cy="331.8" r="2.0"/>
<circle cx="108.3" cy="330" r="2.0"/>
<circle cx="111.9" cy="331.8" r="2.0"/>
<circle cx="107.8" cy="334.1" r="2.0"/>
<circle cx="104.1" cy="334.9" r="2.0"/>
<circle cx="113.6" cy="335.2" r="2.0"/>
<circle cx="106.7" cy="336.7" r="2.0"/>
<circle cx="112.2" cy="337" r="2.0"/>
<circle cx="104.9" cy="339.8" r="2.0"/>
<circle cx="109.3" cy="340.7" r="2.0"/>
<circle cx="113.3" cy="339.8" r="2.0"/>
<circle cx="100.3" cy="343" r="2.0"/>
<circle cx="104.9" cy="343.3" r="2.0"/>
<circle cx="109.8" cy="343.3" r="2.0"/>
<circle cx="115" cy="342.7" r="2.0"/>
<circle cx="117.6" cy="343.9" r="2.0"/>
<circle cx="104.9" cy="346.2" r="2.0"/>
<circle cx="109" cy="345.9" r="2.0"/>
<circle cx="113.3" cy="346.5" r="2.0"/>
<circle cx="117.9" cy="346.8" r="2.0"/>
<circle cx="100" cy="347.9" r="2.0"/>
<circle cx="101.8" cy="347.9" r="2.0"/>
<circle cx="108.1" cy="350.8" r="2.0"/>
<circle cx="111.3" cy="350.8" r="2.0"/>
<circle cx="115.6" cy="350.5" r="2.0"/>
<circle cx="119.9" cy="350.8" r="2.0"/>
<circle cx="104.9" cy="354" r="2.0"/>
<circle cx="109" cy="353.7" r="2.0"/>
<circle cx="112.2" cy="353.7" r="2.0"/>
<circle cx="115" cy="354.3" r="2.0"/>
<circle cx="123.4" cy="353.7" r="2.0"/>
<circle cx="96.9" cy="354.6" r="2.0"/>
</g>
<path d="M177.5 314.5H261M177.5 314V398.5" stroke="#1c1c1c" stroke-width="1" fill="none"/>
<path d="M193.5 314.5V311.5M209.5 314.5V311.5M225.5 314.5V311.5M241.5 314.5V311.5M257.5 314.5V311.5" stroke="#1c1c1c" stroke-width="1" fill="none"/>
<text x="209.57" y="306.9" font-size="7.5" text-anchor="middle">10<tspan font-size="4.6" dy="-2.8">1</tspan></text>
<text x="241.71" y="306.9" font-size="7.5" text-anchor="middle">10<tspan font-size="4.6" dy="-2.8">3</tspan></text>
<path d="M177.5 334.5H174.5M177.5 355.5H174.5M177.5 375.5H174.5M177.5 395.5H174.5" stroke="#1c1c1c" stroke-width="1" fill="none"/>
<text x="170.9" y="377.5" font-size="7.5" text-anchor="end">10<tspan font-size="4.6" dy="-2.8">-1</tspan></text>
<text x="170.9" y="397.85" font-size="7.5" text-anchor="end">10<tspan font-size="4.6" dy="-2.8">-2</tspan></text>
<text transform="translate(151.8 356.7) rotate(-90)" x="0" y="0" font-size="8.8" style="stroke-width:0.28px" text-anchor="middle" textLength="66.2" lengthAdjust="spacingAndGlyphs">CD3+CD8+ T cells (%)</text>
<text x="228.1" y="398.6" font-size="7.3" text-anchor="middle">Rs = -0.686</text>
<text x="228.1" y="407.5" font-size="7.3" text-anchor="middle"><tspan font-style="italic">P</tspan> &lt; 0.001</text>
<g fill="none" stroke="#b01840" stroke-width="1.05">
<circle cx="207.8" cy="317.3" r="2.0"/>
<circle cx="214.6" cy="318.6" r="2.0"/>
<circle cx="196.9" cy="326.2" r="2.0"/>
<circle cx="204.3" cy="330.5" r="2.0"/>
<circle cx="203.5" cy="333.1" r="2.0"/>
<circle cx="187.9" cy="341.1" r="2.0"/>
<circle cx="191.6" cy="341.5" r="2.0"/>
<circle cx="211.1" cy="322.9" r="2.0"/>
<circle cx="214" cy="322.1" r="2.0"/>
<circle cx="216.5" cy="321.7" r="2.0"/>
<circle cx="219.4" cy="322.9" r="2.0"/>
<circle cx="211.5" cy="327.1" r="2.0"/>
<circle cx="214.4" cy="327.1" r="2.0"/>
<circle cx="217.3" cy="326.6" r="2.0"/>
<circle cx="219.8" cy="326.6" r="2.0"/>
<circle cx="212.7" cy="330" r="2.0"/>
<circle cx="216.9" cy="330" r="2.0"/>
<circle cx="219.8" cy="330" r="2.0"/>
<circle cx="214.8" cy="333.3" r="2.0"/>
<circle cx="216.9" cy="335.2" r="2.0"/>
<circle cx="221.1" cy="319.8" r="2.0"/>
<circle cx="223.1" cy="323.8" r="2.0"/>
<circle cx="222.7" cy="330.8" r="2.0"/>
<circle cx="225.2" cy="329.1" r="2.0"/>
<circle cx="225" cy="332" r="2.0"/>
<circle cx="228.1" cy="329.5" r="2.0"/>
<circle cx="233.1" cy="325" r="2.0"/>
<circle cx="232.6" cy="327.9" r="2.0"/>
<circle cx="235.1" cy="330" r="2.0"/>
<circle cx="238.9" cy="327.1" r="2.0"/>
<circle cx="242.6" cy="329.1" r="2.0"/>
<circle cx="242.2" cy="331.4" r="2.0"/>
<circle cx="227.9" cy="334.3" r="2.0"/>
<circle cx="231.2" cy="333.3" r="2.0"/>
<circle cx="233.9" cy="334.7" r="2.0"/>
<circle cx="237.6" cy="332.9" r="2.0"/>
<circle cx="231.4" cy="336.6" r="2.0"/>
<circle cx="235.1" cy="337" r="2.0"/>
<circle cx="241.7" cy="336.6" r="2.0"/>
<circle cx="244.2" cy="338.2" r="2.0"/>
<circle cx="227.2" cy="338.9" r="2.0"/>
<circle cx="242.2" cy="339.5" r="2.0"/>
<circle cx="239.9" cy="342.1" r="2.0"/>
<circle cx="237.3" cy="342.9" r="2.0"/>
<circle cx="222" cy="344.9" r="2.0"/>
<circle cx="234.7" cy="344.7" r="2.0"/>
<circle cx="231.2" cy="346.4" r="2.0"/>
<circle cx="238.4" cy="346.1" r="2.0"/>
<circle cx="241.3" cy="347.3" r="2.0"/>
<circle cx="249.7" cy="344.1" r="2.0"/>
<circle cx="250" cy="348.4" r="2.0"/>
<circle cx="235.3" cy="348.4" r="2.0"/>
<circle cx="231.8" cy="349.8" r="2.0"/>
<circle cx="237.6" cy="351.1" r="2.0"/>
<circle cx="240.8" cy="350.7" r="2.0"/>
<circle cx="243.9" cy="350.7" r="2.0"/>
<circle cx="246.8" cy="352.7" r="2.0"/>
<circle cx="235.6" cy="353.3" r="2.0"/>
<circle cx="237.6" cy="355.3" r="2.0"/>
<circle cx="240.5" cy="354.5" r="2.0"/>
<circle cx="235" cy="357.9" r="2.0"/>
<circle cx="241.3" cy="357.1" r="2.0"/>
<circle cx="243.9" cy="357.1" r="2.0"/>
<circle cx="240.2" cy="359.9" r="2.0"/>
<circle cx="243.4" cy="360.5" r="2.0"/>
<circle cx="238.6" cy="375.8" r="2.0"/>
</g>
<path d="M303.5 314.5H387M303.5 314V398.5" stroke="#1c1c1c" stroke-width="1" fill="none"/>
<path d="M319.5 314.5V311.5M335.5 314.5V311.5M351.5 314.5V311.5M367.5 314.5V311.5M383.5 314.5V311.5" stroke="#1c1c1c" stroke-width="1" fill="none"/>
<text x="335.57" y="306.9" font-size="7.5" text-anchor="middle">10<tspan font-size="4.6" dy="-2.8">1</tspan></text>
<text x="367.71" y="306.9" font-size="7.5" text-anchor="middle">10<tspan font-size="4.6" dy="-2.8">3</tspan></text>
<path d="M303.5 334.5H300.5M303.5 355.5H300.5M303.5 375.5H300.5M303.5 395.5H300.5" stroke="#1c1c1c" stroke-width="1" fill="none"/>
<text x="296.9" y="377.5" font-size="7.5" text-anchor="end">10<tspan font-size="4.6" dy="-2.8">-1</tspan></text>
<text x="296.9" y="397.85" font-size="7.5" text-anchor="end">10<tspan font-size="4.6" dy="-2.8">-2</tspan></text>
<text transform="translate(277.8 356.7) rotate(-90)" x="0" y="0" font-size="8.8" style="stroke-width:0.28px" text-anchor="middle" textLength="78" lengthAdjust="spacingAndGlyphs">CD16+CD56+ NK cells (%)</text>
<text x="354.1" y="398.6" font-size="7.3" text-anchor="middle">Rs = -0.688</text>
<text x="354.1" y="407.5" font-size="7.3" text-anchor="middle"><tspan font-style="italic">P</tspan> &lt; 0.001</text>
<g fill="none" stroke="#b01840" stroke-width="1.05">
<circle cx="329.3" cy="326.3" r="2.0"/>
<circle cx="330.9" cy="327.7" r="2.0"/>
<circle cx="322.6" cy="334.1" r="2.0"/>
<circle cx="314.4" cy="339.3" r="2.0"/>
<circle cx="318" cy="342.9" r="2.0"/>
<circle cx="334.6" cy="336.2" r="2.0"/>
<circle cx="337.5" cy="335.7" r="2.0"/>
<circle cx="338.7" cy="332.9" r="2.0"/>
<circle cx="337.9" cy="338.8" r="2.0"/>
<circle cx="342.9" cy="322.5" r="2.0"/>
<circle cx="339.2" cy="326.3" r="2.0"/>
<circle cx="343" cy="326" r="2.0"/>
<circle cx="348.9" cy="324.9" r="2.0"/>
<circle cx="346.5" cy="330.5" r="2.0"/>
<circle cx="340.9" cy="330.5" r="2.0"/>
<circle cx="342" cy="335.7" r="2.0"/>
<circle cx="346.5" cy="338.4" r="2.0"/>
<circle cx="352.4" cy="330.5" r="2.0"/>
<circle cx="357.2" cy="329.4" r="2.0"/>
<circle cx="352.4" cy="333.6" r="2.0"/>
<circle cx="356.9" cy="333.2" r="2.0"/>
<circle cx="352" cy="336.4" r="2.0"/>
<circle cx="357.5" cy="336.4" r="2.0"/>
<circle cx="362.7" cy="329.8" r="2.0"/>
<circle cx="364.1" cy="327" r="2.0"/>
<circle cx="367.9" cy="326.7" r="2.0"/>
<circle cx="363.1" cy="336" r="2.0"/>
<circle cx="366.9" cy="336.7" r="2.0"/>
<circle cx="351" cy="342.6" r="2.0"/>
<circle cx="353.4" cy="344" r="2.0"/>
<circle cx="357.2" cy="341.5" r="2.0"/>
<circle cx="361.4" cy="339.5" r="2.0"/>
<circle cx="363.8" cy="341.9" r="2.0"/>
<circle cx="367.9" cy="340.9" r="2.0"/>
<circle cx="358.9" cy="345.7" r="2.0"/>
<circle cx="363.1" cy="345.7" r="2.0"/>
<circle cx="366.2" cy="347.4" r="2.0"/>
<circle cx="346.8" cy="349.9" r="2.0"/>
<circle cx="357.2" cy="349.9" r="2.0"/>
<circle cx="360.3" cy="348.5" r="2.0"/>
<circle cx="361.7" cy="351.9" r="2.0"/>
<circle cx="365.9" cy="351.9" r="2.0"/>
<circle cx="356.9" cy="353" r="2.0"/>
<circle cx="368.6" cy="338.8" r="2.0"/>
<circle cx="366.9" cy="342.9" r="2.0"/>
<circle cx="369.7" cy="346.4" r="2.0"/>
<circle cx="375.9" cy="345.3" r="2.0"/>
<circle cx="370" cy="350.2" r="2.0"/>
<circle cx="358.9" cy="353.7" r="2.0"/>
<circle cx="365.2" cy="354.7" r="2.0"/>
<circle cx="369" cy="354.7" r="2.0"/>
<circle cx="362.7" cy="356.8" r="2.0"/>
<circle cx="364.5" cy="359.9" r="2.0"/>
<circle cx="367.2" cy="359.9" r="2.0"/>
<circle cx="369.7" cy="358.5" r="2.0"/>
<circle cx="364.8" cy="363" r="2.0"/>
<circle cx="369.7" cy="364" r="2.0"/>
<circle cx="372.4" cy="362.7" r="2.0"/>
<circle cx="365.5" cy="370.3" r="2.0"/>
<circle cx="369" cy="369.2" r="2.0"/>
<circle cx="372.1" cy="369.1" r="2.0"/>
<circle cx="368.5" cy="376.2" r="2.0"/>
<circle cx="375.9" cy="378.5" r="2.0"/>
</g>
<path d="M429.5 314.5H513M429.5 314V398.5" stroke="#1c1c1c" stroke-width="1" fill="none"/>
<path d="M445.5 314.5V311.5M461.5 314.5V311.5M477.5 314.5V311.5M493.5 314.5V311.5M509.5 314.5V311.5" stroke="#1c1c1c" stroke-width="1" fill="none"/>
<text x="461.57" y="306.9" font-size="7.5" text-anchor="middle">10<tspan font-size="4.6" dy="-2.8">1</tspan></text>
<text x="493.71" y="306.9" font-size="7.5" text-anchor="middle">10<tspan font-size="4.6" dy="-2.8">3</tspan></text>
<path d="M429.5 334.5H426.5M429.5 355.5H426.5M429.5 375.5H426.5M429.5 395.5H426.5" stroke="#1c1c1c" stroke-width="1" fill="none"/>
<text x="422.9" y="377.5" font-size="7.5" text-anchor="end">10<tspan font-size="4.6" dy="-2.8">0</tspan></text>
<text x="422.9" y="397.85" font-size="7.5" text-anchor="end">10<tspan font-size="4.6" dy="-2.8">-1</tspan></text>
<text transform="translate(403.8 356.7) rotate(-90)" x="0" y="0" font-size="8.8" style="stroke-width:0.28px" text-anchor="middle" textLength="67.6" lengthAdjust="spacingAndGlyphs">CD11c+ monocytes (%)</text>
<text x="480.1" y="398.6" font-size="7.3" text-anchor="middle">Rs = -0.632</text>
<text x="480.1" y="407.5" font-size="7.3" text-anchor="middle"><tspan font-style="italic">P</tspan> &lt; 0.001</text>
<g fill="none" stroke="#b01840" stroke-width="1.05">
<circle cx="440.1" cy="336.4" r="2.0"/>
<circle cx="443.9" cy="337.5" r="2.0"/>
<circle cx="449.1" cy="335.4" r="2.0"/>
<circle cx="455.7" cy="336.4" r="2.0"/>
<circle cx="460.2" cy="336.4" r="2.0"/>
<circle cx="463.3" cy="334.9" r="2.0"/>
<circle cx="465.7" cy="335.4" r="2.0"/>
<circle cx="468.5" cy="334.7" r="2.0"/>
<circle cx="469.9" cy="336.1" r="2.0"/>
<circle cx="473" cy="335" r="2.0"/>
<circle cx="465.4" cy="340.2" r="2.0"/>
<circle cx="467.1" cy="342.7" r="2.0"/>
<circle cx="471.6" cy="339.5" r="2.0"/>
<circle cx="472.3" cy="360.2" r="2.0"/>
<circle cx="478.3" cy="335.4" r="2.0"/>
<circle cx="480.7" cy="337.5" r="2.0"/>
<circle cx="478.7" cy="338.9" r="2.0"/>
<circle cx="483.5" cy="335.4" r="2.0"/>
<circle cx="486.6" cy="335.7" r="2.0"/>
<circle cx="485.6" cy="339.2" r="2.0"/>
<circle cx="490.8" cy="336.4" r="2.0"/>
<circle cx="490.8" cy="339.9" r="2.0"/>
<circle cx="494.9" cy="334.7" r="2.0"/>
<circle cx="493.9" cy="337.5" r="2.0"/>
<circle cx="496.7" cy="337.8" r="2.0"/>
<circle cx="496.7" cy="340.6" r="2.0"/>
<circle cx="502.2" cy="338.2" r="2.0"/>
<circle cx="502.2" cy="342.7" r="2.0"/>
<circle cx="479" cy="343.4" r="2.0"/>
<circle cx="483.9" cy="341.6" r="2.0"/>
<circle cx="487.7" cy="342" r="2.0"/>
<circle cx="483.9" cy="344" r="2.0"/>
<circle cx="491.5" cy="342.7" r="2.0"/>
<circle cx="494.6" cy="342.7" r="2.0"/>
<circle cx="485.6" cy="346.1" r="2.0"/>
<circle cx="491.8" cy="345.1" r="2.0"/>
<circle cx="475.2" cy="347.5" r="2.0"/>
<circle cx="489" cy="348.2" r="2.0"/>
<circle cx="498.7" cy="346.8" r="2.0"/>
<circle cx="487.7" cy="351.3" r="2.0"/>
<circle cx="492.5" cy="351" r="2.0"/>
<circle cx="496.7" cy="351" r="2.0"/>
<circle cx="499.1" cy="352" r="2.0"/>
<circle cx="490.1" cy="354.1" r="2.0"/>
<circle cx="486.6" cy="356.2" r="2.0"/>
<circle cx="496" cy="355.1" r="2.0"/>
<circle cx="492.9" cy="357.5" r="2.0"/>
<circle cx="492.2" cy="359.5" r="2.0"/>
<circle cx="495.3" cy="360.9" r="2.0"/>
<circle cx="491.1" cy="363" r="2.0"/>
<circle cx="492.2" cy="365" r="2.0"/>
<circle cx="495.3" cy="365.7" r="2.0"/>
<circle cx="490.8" cy="370.8" r="2.0"/>
<circle cx="476.9" cy="373.7" r="2.0"/>
<circle cx="493.9" cy="377.3" r="2.0"/>
<circle cx="491.8" cy="382" r="2.0"/>
<circle cx="494.4" cy="385.5" r="2.0"/>
</g>
<text x="7.3" y="433.5" font-size="10.6" font-weight="bold" fill="#000" style="stroke:#000;stroke-width:0.35px">D</text>
<text x="282.3" y="433.6" font-size="9.3" text-anchor="middle">sIL2R (U/mL)</text>
<path d="M51.5 453.5H135M51.5 453V537.5" stroke="#1c1c1c" stroke-width="1" fill="none"/>
<path d="M71.5 453.5V450.5M91.5 453.5V450.5M112.5 453.5V450.5M132.5 453.5V450.5" stroke="#1c1c1c" stroke-width="1" fill="none"/>
<text x="71.87" y="445.9" font-size="7.5" text-anchor="middle">10<tspan font-size="4.6" dy="-2.8">3</tspan></text>
<text x="112.01" y="445.9" font-size="7.5" text-anchor="middle">10<tspan font-size="4.6" dy="-2.8">5</tspan></text>
<path d="M51.5 453.5H48.5M51.5 469.5H48.5M51.5 486.5H48.5M51.5 502.5H48.5M51.5 518.5H48.5M51.5 535.5H48.5" stroke="#1c1c1c" stroke-width="1" fill="none"/>
<text x="44.9" y="520.85" font-size="7.5" text-anchor="end">10<tspan font-size="4.6" dy="-2.8">-2</tspan></text>
<text x="44.9" y="537.2" font-size="7.5" text-anchor="end">10<tspan font-size="4.6" dy="-2.8">-3</tspan></text>
<text transform="translate(25.8 495.7) rotate(-90)" x="0" y="0" font-size="8.8" style="stroke-width:0.28px" text-anchor="middle" textLength="68" lengthAdjust="spacingAndGlyphs">CD2-CD19+ B cells (%)</text>
<text x="102.1" y="537.6" font-size="7.3" text-anchor="middle">Rs = -0.023</text>
<text x="102.1" y="546.5" font-size="7.3" text-anchor="middle"><tspan font-style="italic">P</tspan> = 0.819</text>
<g fill="none" stroke="#b01840" stroke-width="1.05">
<circle cx="65.3" cy="462.3" r="2.0"/>
<circle cx="77.7" cy="466.2" r="2.0"/>
<circle cx="83.3" cy="470.1" r="2.0"/>
<circle cx="84.9" cy="468.9" r="2.0"/>
<circle cx="90.4" cy="470.5" r="2.0"/>
<circle cx="77.3" cy="471.5" r="2.0"/>
<circle cx="74.6" cy="474.6" r="2.0"/>
<circle cx="75" cy="477.7" r="2.0"/>
<circle cx="87.1" cy="473.9" r="2.0"/>
<circle cx="82.2" cy="478.1" r="2.0"/>
<circle cx="85.7" cy="478.1" r="2.0"/>
<circle cx="89.9" cy="477.7" r="2.0"/>
<circle cx="68" cy="481.9" r="2.0"/>
<circle cx="68" cy="484.2" r="2.0"/>
<circle cx="72.5" cy="480.9" r="2.0"/>
<circle cx="76" cy="480.9" r="2.0"/>
<circle cx="78.8" cy="480.2" r="2.0"/>
<circle cx="82.9" cy="480.9" r="2.0"/>
<circle cx="87.1" cy="481.5" r="2.0"/>
<circle cx="91.9" cy="480.9" r="2.0"/>
<circle cx="81.9" cy="486.4" r="2.0"/>
<circle cx="84.7" cy="486" r="2.0"/>
<circle cx="87.8" cy="484.3" r="2.0"/>
<circle cx="91.9" cy="485" r="2.0"/>
<circle cx="73.6" cy="487.8" r="2.0"/>
<circle cx="77.4" cy="488.5" r="2.0"/>
<circle cx="82.6" cy="489.5" r="2.0"/>
<circle cx="87.1" cy="489.2" r="2.0"/>
<circle cx="68.7" cy="490.9" r="2.0"/>
<circle cx="70.1" cy="491.2" r="2.0"/>
<circle cx="76.4" cy="491.9" r="2.0"/>
<circle cx="80.5" cy="492.6" r="2.0"/>
<circle cx="91.2" cy="491.9" r="2.0"/>
<circle cx="107.3" cy="461.1" r="2.0"/>
<circle cx="98.4" cy="465.3" r="2.0"/>
<circle cx="95.9" cy="469.1" r="2.0"/>
<circle cx="96.6" cy="470.5" r="2.0"/>
<circle cx="97.6" cy="472.9" r="2.0"/>
<circle cx="100.7" cy="472.5" r="2.0"/>
<circle cx="99" cy="476.4" r="2.0"/>
<circle cx="107.3" cy="470.5" r="2.0"/>
<circle cx="94.2" cy="480.5" r="2.0"/>
<circle cx="95.5" cy="484.3" r="2.0"/>
<circle cx="98" cy="484" r="2.0"/>
<circle cx="103.9" cy="483.6" r="2.0"/>
<circle cx="112.5" cy="484.3" r="2.0"/>
<circle cx="104.2" cy="487.8" r="2.0"/>
<circle cx="95.5" cy="489.2" r="2.0"/>
<circle cx="98.3" cy="488.5" r="2.0"/>
<circle cx="92.1" cy="488.5" r="2.0"/>
<circle cx="107.7" cy="490.9" r="2.0"/>
<circle cx="92.8" cy="491.9" r="2.0"/>
<circle cx="98" cy="492.3" r="2.0"/>
<circle cx="101.1" cy="492.6" r="2.0"/>
<circle cx="78.8" cy="495.5" r="2.0"/>
<circle cx="67" cy="497.3" r="2.0"/>
<circle cx="70.1" cy="498" r="2.0"/>
<circle cx="72.2" cy="495.9" r="2.0"/>
<circle cx="70.8" cy="502.5" r="2.0"/>
<circle cx="78.4" cy="501.1" r="2.0"/>
<circle cx="85" cy="497.3" r="2.0"/>
<circle cx="87.1" cy="495.2" r="2.0"/>
<circle cx="90.5" cy="495.9" r="2.0"/>
<circle cx="93" cy="497.3" r="2.0"/>
<circle cx="88.1" cy="501.8" r="2.0"/>
<circle cx="84.7" cy="503.9" r="2.0"/>
<circle cx="84" cy="507" r="2.0"/>
<circle cx="89.5" cy="505.2" r="2.0"/>
<circle cx="89.9" cy="507.7" r="2.0"/>
<circle cx="93" cy="509.7" r="2.0"/>
<circle cx="83.6" cy="518" r="2.0"/>
<circle cx="94.2" cy="499" r="2.0"/>
<circle cx="100" cy="496.9" r="2.0"/>
<circle cx="104.2" cy="495.9" r="2.0"/>
<circle cx="109" cy="499.3" r="2.0"/>
<circle cx="117.4" cy="501.9" r="2.0"/>
<circle cx="103.2" cy="504.2" r="2.0"/>
<circle cx="91" cy="504.5" r="2.0"/>
<circle cx="91" cy="507" r="2.0"/>
<circle cx="97.8" cy="510.6" r="2.0"/>
</g>
<path d="M177.5 453.5H261M177.5 453V537.5" stroke="#1c1c1c" stroke-width="1" fill="none"/>
<path d="M197.5 453.5V450.5M217.5 453.5V450.5M238.5 453.5V450.5M258.5 453.5V450.5" stroke="#1c1c1c" stroke-width="1" fill="none"/>
<text x="197.87" y="445.9" font-size="7.5" text-anchor="middle">10<tspan font-size="4.6" dy="-2.8">3</tspan></text>
<text x="238.01" y="445.9" font-size="7.5" text-anchor="middle">10<tspan font-size="4.6" dy="-2.8">5</tspan></text>
<path d="M177.5 453.5H174.5M177.5 473.5H174.5M177.5 494.5H174.5M177.5 514.5H174.5M177.5 534.5H174.5" stroke="#1c1c1c" stroke-width="1" fill="none"/>
<text x="170.9" y="516.5" font-size="7.5" text-anchor="end">10<tspan font-size="4.6" dy="-2.8">-1</tspan></text>
<text x="170.9" y="536.85" font-size="7.5" text-anchor="end">10<tspan font-size="4.6" dy="-2.8">-2</tspan></text>
<text transform="translate(151.8 495.7) rotate(-90)" x="0" y="0" font-size="8.8" style="stroke-width:0.28px" text-anchor="middle" textLength="66.2" lengthAdjust="spacingAndGlyphs">CD3+CD8+ T cells (%)</text>
<text x="228.1" y="537.6" font-size="7.3" text-anchor="middle">Rs = -0.246</text>
<text x="228.1" y="546.5" font-size="7.3" text-anchor="middle"><tspan font-style="italic">P</tspan> = 0.013</text>
<g fill="none" stroke="#b01840" stroke-width="1.05">
<circle cx="201.9" cy="458.8" r="2.0"/>
<circle cx="204.6" cy="458.5" r="2.0"/>
<circle cx="193.5" cy="462" r="2.0"/>
<circle cx="202.9" cy="462" r="2.0"/>
<circle cx="205" cy="461.3" r="2.0"/>
<circle cx="210.9" cy="460.9" r="2.0"/>
<circle cx="214.7" cy="460.9" r="2.0"/>
<circle cx="217.1" cy="459.5" r="2.0"/>
<circle cx="220.5" cy="459.9" r="2.0"/>
<circle cx="198.4" cy="464.7" r="2.0"/>
<circle cx="203.2" cy="465.1" r="2.0"/>
<circle cx="210.2" cy="465.4" r="2.0"/>
<circle cx="216.4" cy="464" r="2.0"/>
<circle cx="221.9" cy="463" r="2.0"/>
<circle cx="191.1" cy="468.9" r="2.0"/>
<circle cx="195.6" cy="468.5" r="2.0"/>
<circle cx="199.1" cy="468.2" r="2.0"/>
<circle cx="203.6" cy="468.2" r="2.0"/>
<circle cx="206.7" cy="468.9" r="2.0"/>
<circle cx="211.9" cy="468.5" r="2.0"/>
<circle cx="219.9" cy="467.9" r="2.0"/>
<circle cx="223" cy="467.2" r="2.0"/>
<circle cx="194.2" cy="472" r="2.0"/>
<circle cx="200.8" cy="470.6" r="2.0"/>
<circle cx="208.8" cy="471.3" r="2.0"/>
<circle cx="213.3" cy="471.7" r="2.0"/>
<circle cx="217.1" cy="472.1" r="2.0"/>
<circle cx="197" cy="473.7" r="2.0"/>
<circle cx="199.8" cy="474.1" r="2.0"/>
<circle cx="208.1" cy="474.8" r="2.0"/>
<circle cx="211.2" cy="474.8" r="2.0"/>
<circle cx="196.7" cy="476.9" r="2.0"/>
<circle cx="220.2" cy="477.2" r="2.0"/>
<circle cx="222.6" cy="475.1" r="2.0"/>
<circle cx="201.5" cy="479.3" r="2.0"/>
<circle cx="204.6" cy="480" r="2.0"/>
<circle cx="208.1" cy="480.7" r="2.0"/>
<circle cx="202.5" cy="482" r="2.0"/>
<circle cx="222.6" cy="479.6" r="2.0"/>
<circle cx="211.5" cy="482.7" r="2.0"/>
<circle cx="203.9" cy="485.9" r="2.0"/>
<circle cx="211.5" cy="485.2" r="2.0"/>
<circle cx="212.9" cy="487.9" r="2.0"/>
<circle cx="218.5" cy="486.5" r="2.0"/>
<circle cx="221.9" cy="487.2" r="2.0"/>
<circle cx="192.8" cy="488.6" r="2.0"/>
<circle cx="229.3" cy="456.1" r="2.0"/>
<circle cx="233.9" cy="462.7" r="2.0"/>
<circle cx="223.8" cy="465.8" r="2.0"/>
<circle cx="224.2" cy="468.9" r="2.0"/>
<circle cx="226.6" cy="472.7" r="2.0"/>
<circle cx="221" cy="472.7" r="2.0"/>
<circle cx="234.2" cy="475.1" r="2.0"/>
<circle cx="238.7" cy="474.8" r="2.0"/>
<circle cx="231.1" cy="477.9" r="2.0"/>
<circle cx="225.2" cy="481.4" r="2.0"/>
<circle cx="227.3" cy="483.4" r="2.0"/>
<circle cx="234.2" cy="484.5" r="2.0"/>
<circle cx="243.9" cy="482.5" r="2.0"/>
<circle cx="223.8" cy="488.6" r="2.0"/>
<circle cx="230.4" cy="488.6" r="2.0"/>
<circle cx="210.2" cy="491.9" r="2.0"/>
<circle cx="213.6" cy="490.5" r="2.0"/>
<circle cx="217.8" cy="492.9" r="2.0"/>
<circle cx="221.6" cy="494" r="2.0"/>
<circle cx="210.2" cy="495.3" r="2.0"/>
<circle cx="209.5" cy="496.7" r="2.0"/>
<circle cx="216.7" cy="497.9" r="2.0"/>
<circle cx="223.3" cy="497.1" r="2.0"/>
<circle cx="212.8" cy="514" r="2.0"/>
<circle cx="230.7" cy="493.6" r="2.0"/>
<circle cx="235.6" cy="492.6" r="2.0"/>
<circle cx="227.6" cy="498.1" r="2.0"/>
</g>
<path d="M303.5 453.5H387M303.5 453V537.5" stroke="#1c1c1c" stroke-width="1" fill="none"/>
<path d="M323.5 453.5V450.5M343.5 453.5V450.5M364.5 453.5V450.5M384.5 453.5V450.5" stroke="#1c1c1c" stroke-width="1" fill="none"/>
<text x="323.87" y="445.9" font-size="7.5" text-anchor="middle">10<tspan font-size="4.6" dy="-2.8">3</tspan></text>
<text x="364.01" y="445.9" font-size="7.5" text-anchor="middle">10<tspan font-size="4.6" dy="-2.8">5</tspan></text>
<path d="M303.5 453.5H300.5M303.5 473.5H300.5M303.5 494.5H300.5M303.5 514.5H300.5M303.5 534.5H300.5" stroke="#1c1c1c" stroke-width="1" fill="none"/>
<text x="296.9" y="516.5" font-size="7.5" text-anchor="end">10<tspan font-size="4.6" dy="-2.8">-1</tspan></text>
<text x="296.9" y="536.85" font-size="7.5" text-anchor="end">10<tspan font-size="4.6" dy="-2.8">-2</tspan></text>
<text transform="translate(277.8 495.7) rotate(-90)" x="0" y="0" font-size="8.8" style="stroke-width:0.28px" text-anchor="middle" textLength="78" lengthAdjust="spacingAndGlyphs">CD16+CD56+ NK cells (%)</text>
<text x="354.1" y="537.6" font-size="7.3" text-anchor="middle">Rs = -0.329</text>
<text x="354.1" y="546.5" font-size="7.3" text-anchor="middle"><tspan font-style="italic">P</tspan> = 0.001</text>
<g fill="none" stroke="#b01840" stroke-width="1.05">
<circle cx="323.3" cy="460.9" r="2.0"/>
<circle cx="320.2" cy="463.2" r="2.0"/>
<circle cx="316.8" cy="465.3" r="2.0"/>
<circle cx="320.2" cy="465.4" r="2.0"/>
<circle cx="328.5" cy="465.3" r="2.0"/>
<circle cx="342.7" cy="464.6" r="2.0"/>
<circle cx="347.2" cy="463.2" r="2.0"/>
<circle cx="349" cy="465.6" r="2.0"/>
<circle cx="327.9" cy="469.1" r="2.0"/>
<circle cx="331.7" cy="468" r="2.0"/>
<circle cx="336.9" cy="468" r="2.0"/>
<circle cx="343.1" cy="469.1" r="2.0"/>
<circle cx="320.9" cy="471.2" r="2.0"/>
<circle cx="324.4" cy="472.5" r="2.0"/>
<circle cx="331" cy="472.2" r="2.0"/>
<circle cx="334.4" cy="471.9" r="2.0"/>
<circle cx="341.7" cy="471.2" r="2.0"/>
<circle cx="321.6" cy="474.6" r="2.0"/>
<circle cx="336.9" cy="474.3" r="2.0"/>
<circle cx="346.2" cy="473.9" r="2.0"/>
<circle cx="326.8" cy="477" r="2.0"/>
<circle cx="329.9" cy="476" r="2.0"/>
<circle cx="333" cy="476.4" r="2.0"/>
<circle cx="340.3" cy="476.4" r="2.0"/>
<circle cx="348.3" cy="476.4" r="2.0"/>
<circle cx="328.5" cy="480.5" r="2.0"/>
<circle cx="332.4" cy="479.8" r="2.0"/>
<circle cx="336.9" cy="480.5" r="2.0"/>
<circle cx="342" cy="480.2" r="2.0"/>
<circle cx="346.5" cy="479.1" r="2.0"/>
<circle cx="322.7" cy="482.2" r="2.0"/>
<circle cx="329.2" cy="483.6" r="2.0"/>
<circle cx="333.4" cy="483.3" r="2.0"/>
<circle cx="339.3" cy="485.7" r="2.0"/>
<circle cx="345.5" cy="484.3" r="2.0"/>
<circle cx="348.3" cy="481.5" r="2.0"/>
<circle cx="325.8" cy="487.8" r="2.0"/>
<circle cx="329.6" cy="486.7" r="2.0"/>
<circle cx="335.5" cy="487.1" r="2.0"/>
<circle cx="343.1" cy="488.1" r="2.0"/>
<circle cx="336.5" cy="489.9" r="2.0"/>
<circle cx="339.6" cy="489.9" r="2.0"/>
<circle cx="347.2" cy="490.5" r="2.0"/>
<circle cx="334.1" cy="493" r="2.0"/>
<circle cx="343.1" cy="493" r="2.0"/>
<circle cx="350.2" cy="464.9" r="2.0"/>
<circle cx="349.8" cy="474.6" r="2.0"/>
<circle cx="355.3" cy="474.6" r="2.0"/>
<circle cx="359.7" cy="472.4" r="2.0"/>
<circle cx="350.8" cy="478.1" r="2.0"/>
<circle cx="359.7" cy="477.7" r="2.0"/>
<circle cx="359.5" cy="480.9" r="2.0"/>
<circle cx="364.6" cy="482.2" r="2.0"/>
<circle cx="352.9" cy="483.6" r="2.0"/>
<circle cx="349.1" cy="485.4" r="2.0"/>
<circle cx="352.9" cy="486.7" r="2.0"/>
<circle cx="356.2" cy="488.1" r="2.0"/>
<circle cx="350.8" cy="491.9" r="2.0"/>
<circle cx="369.5" cy="491.6" r="2.0"/>
<circle cx="337.9" cy="493.1" r="2.0"/>
<circle cx="347.9" cy="495.2" r="2.0"/>
<circle cx="338.9" cy="498" r="2.0"/>
<circle cx="346.5" cy="500.7" r="2.0"/>
<circle cx="336.2" cy="502.3" r="2.0"/>
<circle cx="319.4" cy="500.9" r="2.0"/>
<circle cx="344.8" cy="507.3" r="2.0"/>
<circle cx="342.7" cy="508.7" r="2.0"/>
<circle cx="345.2" cy="516.7" r="2.0"/>
<circle cx="349.8" cy="498.7" r="2.0"/>
<circle cx="356.4" cy="495.2" r="2.0"/>
<circle cx="361.1" cy="496.9" r="2.0"/>
<circle cx="353.3" cy="507.2" r="2.0"/>
<circle cx="356.7" cy="514.2" r="2.0"/>
</g>
<path d="M429.5 453.5H513M429.5 453V537.5" stroke="#1c1c1c" stroke-width="1" fill="none"/>
<path d="M449.5 453.5V450.5M469.5 453.5V450.5M490.5 453.5V450.5M510.5 453.5V450.5" stroke="#1c1c1c" stroke-width="1" fill="none"/>
<text x="449.87" y="445.9" font-size="7.5" text-anchor="middle">10<tspan font-size="4.6" dy="-2.8">3</tspan></text>
<text x="490.01" y="445.9" font-size="7.5" text-anchor="middle">10<tspan font-size="4.6" dy="-2.8">5</tspan></text>
<path d="M429.5 473.5H426.5M429.5 494.5H426.5M429.5 514.5H426.5M429.5 534.5H426.5" stroke="#1c1c1c" stroke-width="1" fill="none"/>
<text x="422.9" y="516.5" font-size="7.5" text-anchor="end">10<tspan font-size="4.6" dy="-2.8">0</tspan></text>
<text x="422.9" y="536.85" font-size="7.5" text-anchor="end">10<tspan font-size="4.6" dy="-2.8">-1</tspan></text>
<text transform="translate(403.8 495.7) rotate(-90)" x="0" y="0" font-size="8.8" style="stroke-width:0.28px" text-anchor="middle" textLength="67.6" lengthAdjust="spacingAndGlyphs">CD11c+ monocytes (%)</text>
<text x="480.1" y="537.6" font-size="7.3" text-anchor="middle">Rs = -0.260</text>
<text x="480.1" y="546.5" font-size="7.3" text-anchor="middle"><tspan font-style="italic">P</tspan> = 0.008</text>
<g fill="none" stroke="#b01840" stroke-width="1.05">
<circle cx="443.1" cy="474.3" r="2.0"/>
<circle cx="446.6" cy="474.3" r="2.0"/>
<circle cx="448.3" cy="474.3" r="2.0"/>
<circle cx="450.7" cy="474.3" r="2.0"/>
<circle cx="453.9" cy="474.3" r="2.0"/>
<circle cx="457" cy="474.3" r="2.0"/>
<circle cx="462.2" cy="474.3" r="2.0"/>
<circle cx="465.6" cy="474.3" r="2.0"/>
<circle cx="468.7" cy="474.3" r="2.0"/>
<circle cx="472.2" cy="474.3" r="2.0"/>
<circle cx="475" cy="474.3" r="2.0"/>
<circle cx="444.8" cy="476.7" r="2.0"/>
<circle cx="449" cy="476.7" r="2.0"/>
<circle cx="452.1" cy="476.7" r="2.0"/>
<circle cx="454.9" cy="476.7" r="2.0"/>
<circle cx="458" cy="476.7" r="2.0"/>
<circle cx="462.2" cy="476.9" r="2.0"/>
<circle cx="466.3" cy="476.7" r="2.0"/>
<circle cx="470.5" cy="476.7" r="2.0"/>
<circle cx="473.2" cy="476.9" r="2.0"/>
<circle cx="451.1" cy="481.9" r="2.0"/>
<circle cx="454.9" cy="480.2" r="2.0"/>
<circle cx="462.5" cy="479.5" r="2.0"/>
<circle cx="464.6" cy="482.3" r="2.0"/>
<circle cx="469.1" cy="480.9" r="2.0"/>
<circle cx="471.9" cy="480.9" r="2.0"/>
<circle cx="474.6" cy="479.9" r="2.0"/>
<circle cx="445.2" cy="486.1" r="2.0"/>
<circle cx="461.5" cy="485.7" r="2.0"/>
<circle cx="459" cy="489.5" r="2.0"/>
<circle cx="463.5" cy="488.5" r="2.0"/>
<circle cx="472.5" cy="486.1" r="2.0"/>
<circle cx="473.9" cy="489.5" r="2.0"/>
<circle cx="466" cy="490.9" r="2.0"/>
<circle cx="470.5" cy="490.6" r="2.0"/>
<circle cx="469.1" cy="493.4" r="2.0"/>
<circle cx="472.5" cy="493" r="2.0"/>
<circle cx="456.6" cy="498.2" r="2.0"/>
<circle cx="460.1" cy="497.9" r="2.0"/>
<circle cx="464.2" cy="496.5" r="2.0"/>
<circle cx="464.6" cy="501" r="2.0"/>
<circle cx="476.5" cy="474.3" r="2.0"/>
<circle cx="482.4" cy="472.9" r="2.0"/>
<circle cx="486.2" cy="472.9" r="2.0"/>
<circle cx="482" cy="475" r="2.0"/>
<circle cx="486.2" cy="475.3" r="2.0"/>
<circle cx="478.6" cy="477.8" r="2.0"/>
<circle cx="486.2" cy="478.5" r="2.0"/>
<circle cx="490.7" cy="480.5" r="2.0"/>
<circle cx="482.4" cy="483.9" r="2.0"/>
<circle cx="495.9" cy="484.7" r="2.0"/>
<circle cx="487.2" cy="492.5" r="2.0"/>
<circle cx="479.5" cy="494.3" r="2.0"/>
<circle cx="479.5" cy="499.4" r="2.0"/>
<circle cx="460.1" cy="504" r="2.0"/>
<circle cx="468.7" cy="502.9" r="2.0"/>
<circle cx="474.6" cy="511.6" r="2.0"/>
<circle cx="475.3" cy="516.1" r="2.0"/>
<circle cx="462.5" cy="519.9" r="2.0"/>
<circle cx="475.3" cy="523.7" r="2.0"/>
<circle cx="482.8" cy="509.1" r="2.0"/>
</g>
</svg></div></body></html>
